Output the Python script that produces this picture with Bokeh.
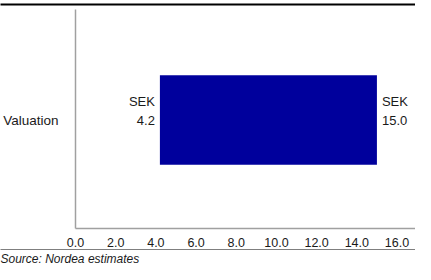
from bokeh.plotting import figure
from bokeh.layouts import column
from bokeh.models import Range1d, FixedTicker, NumeralTickFormatter, ColumnDataSource, Title
from bokeh.core.properties import value
from bokeh.embed import file_html
from bokeh.resources import INLINE

categories = ["Valuation"]
low_values = [4.2]
high_values = [15.0]
x_ticks = [0, 2, 4, 6, 8, 10, 12, 14, 16]
currency = "SEK"
source_text = "Source: Nordea estimates"

FONT = "Liberation Sans"
TXT = "#1a1a1a"
W = 415

src = ColumnDataSource(dict(
    y=list(range(len(categories))),
    low=low_values,
    high=high_values,
    low_label=[f"{currency}\n{v:.1f}" for v in low_values],
    high_label=[f"{currency}\n{v:.1f}" for v in high_values],
))


def rule_figure(height, width, border_bottom):
    f = figure(width=W, height=height, output_backend="svg", toolbar_location=None,
               min_border_left=0, min_border_top=0, min_border_bottom=border_bottom,
               min_border_right=W - width, x_axis_type=None, y_axis_type=None,
               x_range=Range1d(0, 1), y_range=Range1d(0, 1), frame_align=False)
    f.background_fill_color = "black"
    f.border_fill_color = "white"
    f.outline_line_color = None
    f.grid.visible = False
    return f


top = rule_figure(9, W, 7)

p = figure(width=W, height=240, output_backend="svg", toolbar_location=None,
           x_range=Range1d(0, 16.92), y_range=Range1d(-0.728, 0.742),
           min_border_left=75, min_border_right=0, min_border_top=0, min_border_bottom=17,
           frame_align=False)
p.outline_line_color = None
p.grid.visible = False
p.background_fill_color = "white"
p.border_fill_color = "white"

p.hbar(y="y", left="low", right="high", height=0.6, source=src,
       fill_color="#00009c", line_color=None)

p.text(x="low", y="y", text="low_label", source=src, text_align="right",
       text_baseline="middle", x_offset=-5, y_offset=-9,
       text_font=value(FONT), text_font_size="13px", text_color=TXT,
       text_line_height=1.25)
p.text(x="high", y="y", text="high_label", source=src, text_align="left",
       text_baseline="middle", x_offset=5, y_offset=-9,
       text_font=value(FONT), text_font_size="13px", text_color=TXT,
       text_line_height=1.25)

xa = p.xaxis[0]
xa.ticker = FixedTicker(ticks=x_ticks)
xa.formatter = NumeralTickFormatter(format="0.0")
xa.axis_line_color = "#a0a0a0"
xa.axis_line_width = 1.5
xa.major_tick_line_color = None
xa.minor_tick_line_color = None
xa.major_label_standoff = 3
xa.major_label_text_font = FONT
xa.major_label_text_font_size = "12.5px"
xa.major_label_text_color = TXT

ya = p.yaxis[0]
ya.ticker = FixedTicker(ticks=list(range(len(categories))))
ya.major_label_overrides = {i: c for i, c in enumerate(categories)}
ya.axis_line_color = "#a0a0a0"
ya.axis_line_width = 1.5
ya.major_tick_line_color = None
ya.minor_tick_line_color = None
ya.major_label_standoff = 11
ya.major_label_text_font = FONT
ya.major_label_text_font_size = "13.5px"
ya.major_label_text_color = TXT

bottom = rule_figure(15, W, 13)
bottom.add_layout(Title(text=source_text, align="left", text_font=FONT,
                        text_font_size="12px", text_font_style="italic",
                        text_color=TXT, standoff=0, offset=0), "below")

layout = column(top, p, bottom, spacing=0)

open("out.html", "w").write(file_html(layout, INLINE))
